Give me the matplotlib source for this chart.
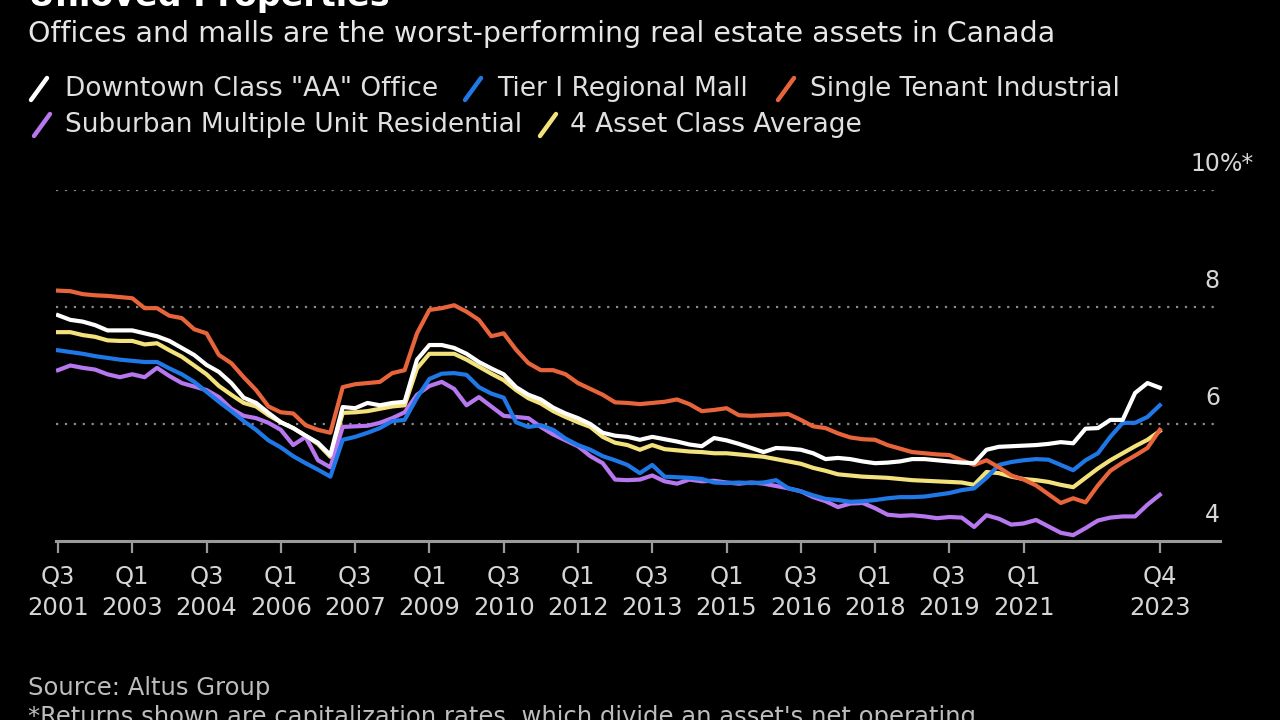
import matplotlib.pyplot as plt
from matplotlib.lines import Line2D
from matplotlib.transforms import blended_transform_factory

# ---- data: quarterly cap rates, Q3 2001 .. Q4 2023 ----
office = [7.86, 7.78, 7.75, 7.69, 7.60, 7.60, 7.60, 7.55, 7.50, 7.42,
          7.30, 7.18, 7.01, 6.89, 6.70, 6.45, 6.36, 6.19, 6.03, 5.93,
          5.80, 5.68, 5.47, 6.29, 6.27, 6.36, 6.32, 6.36, 6.38, 7.10,
          7.35, 7.35, 7.30, 7.20, 7.06, 6.95, 6.85, 6.63, 6.50, 6.42,
          6.28, 6.18, 6.10, 6.00, 5.85, 5.80, 5.78, 5.73, 5.78, 5.74,
          5.70, 5.65, 5.62, 5.76, 5.72, 5.66, 5.59, 5.52, 5.59, 5.58,
          5.56, 5.50, 5.40, 5.42, 5.40, 5.36, 5.33, 5.34, 5.36, 5.40,
          5.40, 5.38, 5.36, 5.34, 5.33, 5.56, 5.61, 5.62, 5.63, 5.64,
          5.66, 5.69, 5.67, 5.92, 5.93, 6.07, 6.07, 6.53, 6.70, 6.62]

mall = [7.26, 7.23, 7.20, 7.16, 7.13, 7.10, 7.08, 7.06, 7.06, 6.95,
        6.85, 6.72, 6.55, 6.38, 6.22, 6.05, 5.90, 5.72, 5.60, 5.45,
        5.33, 5.22, 5.10, 5.73, 5.78, 5.85, 5.93, 6.05, 6.07, 6.45,
        6.77, 6.86, 6.87, 6.84, 6.63, 6.52, 6.45, 6.03, 5.95, 5.98,
        5.90, 5.75, 5.64, 5.56, 5.45, 5.38, 5.30, 5.16, 5.30, 5.10,
        5.09, 5.08, 5.06, 5.00, 4.99, 5.00, 4.99, 5.00, 5.04, 4.90,
        4.85, 4.78, 4.72, 4.70, 4.67, 4.68, 4.70, 4.73, 4.75, 4.75,
        4.76, 4.79, 4.82, 4.87, 4.90, 5.08, 5.30, 5.35, 5.38, 5.40,
        5.39, 5.30, 5.21, 5.38, 5.50, 5.78, 6.02, 6.02, 6.12, 6.32]

industrial = [8.28, 8.27, 8.22, 8.20, 8.19, 8.17, 8.15, 7.98, 7.98, 7.85,
              7.81, 7.62, 7.55, 7.18, 7.04, 6.80, 6.58, 6.30, 6.20, 6.18,
              5.98, 5.90, 5.85, 6.63, 6.68, 6.70, 6.72, 6.87, 6.92, 7.55,
              7.95, 7.98, 8.03, 7.92, 7.78, 7.50, 7.55, 7.27, 7.04, 6.92,
              6.92, 6.85, 6.70, 6.60, 6.50, 6.37, 6.36, 6.34, 6.36, 6.38,
              6.42, 6.34, 6.22, 6.24, 6.27, 6.15, 6.14, 6.15, 6.16, 6.17,
              6.07, 5.96, 5.93, 5.84, 5.77, 5.74, 5.73, 5.64, 5.58, 5.52,
              5.50, 5.48, 5.47, 5.38, 5.30, 5.38, 5.26, 5.12, 5.05, 4.95,
              4.80, 4.65, 4.73, 4.66, 4.95, 5.20, 5.34, 5.46, 5.59, 5.90]

residential = [6.92, 7.00, 6.96, 6.93, 6.85, 6.80, 6.85, 6.80, 6.96, 6.82,
               6.70, 6.64, 6.58, 6.46, 6.26, 6.14, 6.10, 6.02, 5.90, 5.64,
               5.78, 5.38, 5.26, 5.95, 5.96, 5.97, 6.02, 6.10, 6.20, 6.50,
               6.65, 6.72, 6.60, 6.32, 6.46, 6.30, 6.14, 6.12, 6.10, 5.95,
               5.82, 5.72, 5.62, 5.45, 5.33, 5.05, 5.04, 5.05, 5.12, 5.02,
               4.98, 5.05, 5.02, 5.03, 5.00, 4.98, 5.00, 4.98, 4.94, 4.90,
               4.85, 4.75, 4.68, 4.58, 4.64, 4.65, 4.56, 4.45, 4.43, 4.44,
               4.42, 4.39, 4.41, 4.40, 4.24, 4.44, 4.38, 4.28, 4.30, 4.36,
               4.25, 4.14, 4.10, 4.22, 4.35, 4.40, 4.42, 4.42, 4.62, 4.79]

average = [7.57, 7.57, 7.52, 7.49, 7.43, 7.42, 7.42, 7.36, 7.38, 7.26,
           7.15, 7.00, 6.85, 6.65, 6.50, 6.36, 6.30, 6.15, 6.03, 5.93,
           5.80, 5.66, 5.44, 6.19, 6.20, 6.22, 6.26, 6.30, 6.32, 6.95,
           7.20, 7.20, 7.20, 7.10, 6.98, 6.86, 6.75, 6.58, 6.44, 6.35,
           6.22, 6.12, 6.03, 5.95, 5.78, 5.68, 5.64, 5.56, 5.64, 5.57,
           5.55, 5.53, 5.52, 5.50, 5.50, 5.48, 5.46, 5.44, 5.40, 5.36,
           5.32, 5.25, 5.20, 5.14, 5.12, 5.10, 5.09, 5.08, 5.06, 5.04,
           5.03, 5.02, 5.01, 5.00, 4.96, 5.18, 5.16, 5.10, 5.06, 5.04,
           5.01, 4.96, 4.92, 5.08, 5.24, 5.38, 5.50, 5.62, 5.73, 5.88]

# quarter labels Q3 2001 .. Q4 2023
quarters = []
y, q = 2001, 3
while (y, q) <= (2023, 4):
    quarters.append(f"Q{q}\n{y}")
    q += 1
    if q > 4:
        y, q = y + 1, 1
x = list(range(len(quarters)))

tick_idx = list(range(0, 79, 6)) + [len(quarters) - 1]
tick_labels = [quarters[i] for i in tick_idx]

y_ticks = [4, 6, 8, 10]

series = [
    ("Downtown Class \"AA\" Office", office, "#ffffff"),
    ("Tier I Regional Mall", mall, "#1f78e6"),
    ("Single Tenant Industrial", industrial, "#e8653c"),
    ("Suburban Multiple Unit Residential", residential, "#b777ee"),
    ("4 Asset Class Average", average, "#f3e27c"),
]

# ---- figure ----
W, H = 1280, 720
fig = plt.figure(figsize=(12.8, 7.2), dpi=100, facecolor="black")
ax = fig.add_axes([56 / W, 179 / H, 1164 / W, 351 / H], facecolor="black")

# draw order: average under the others like the reference
for name, vals, col in [series[4], series[3], series[1], series[2], series[0]]:
    ax.plot(x, vals, color=col, lw=3.0, solid_joinstyle="round", zorder=3)

ax.set_xlim(-0.16, 93.86)
ax.set_ylim(4, 10)

for v in y_ticks[1:]:
    ax.axhline(v, color="#8a8a8a", lw=1.6, ls=(0, (1, 3)), zorder=1)

for s in ["top", "right", "left"]:
    ax.spines[s].set_visible(False)
ax.spines["bottom"].set_color("#9a9a9a")
ax.spines["bottom"].set_linewidth(2.2)

ax.set_yticks([])
ax.set_xticks(tick_idx)
ax.set_xticklabels(tick_labels, color="#d6d6d6", fontsize=17.5, linespacing=1.35)
ax.tick_params(axis="x", length=8.5, width=1.6, color="#9a9a9a", pad=9)

# right side value labels, sitting above gridlines
tr = blended_transform_factory(ax.transAxes, ax.transData)
for v in y_ticks:
    ax.text(1.0, v + 0.32, str(v), transform=tr, ha="right", va="baseline",
            color="#d6d6d6", fontsize=17, clip_on=False)
ax.text(1.0, y_ticks[-1] + 0.32, "%*", transform=tr, ha="left", va="baseline",
        color="#d6d6d6", fontsize=17, clip_on=False)

# ---- title / subtitle (title cut off at top like the screenshot) ----
fig.text(28 / W, 1 - 6 / H, "Unloved Properties", color="white", fontsize=24,
         fontweight="bold", ha="left", va="baseline")
fig.text(28 / W, 1 - 34 / H, "Offices and malls are the worst-performing real estate assets in Canada",
         color="#e6e6e6", fontsize=20.5, ha="left", va="center")

# ---- legend drawn by hand ----
legend_pos = [(39, 89, 65), (473, 89, 497), (786, 89, 810), (42, 125, 65), (548, 125, 570)]
for (name, vals, col), (mx, my, tx) in zip(series, legend_pos):
    fig.add_artist(Line2D([(mx - 8) / W, (mx + 8) / W], [1 - (my + 11) / H, 1 - (my - 11) / H],
                          transform=fig.transFigure, color=col, lw=3.2, solid_capstyle="round"))
    fig.text(tx / W, 1 - my / H, name, color="#e0e0e0", fontsize=19, ha="left", va="center")

# ---- footer ----
fig.text(28 / W, 1 - 688 / H, "Source: Altus Group", color="#bdbdbd", fontsize=17.5,
         ha="left", va="center")
fig.text(28 / W, 1 - 717 / H,
         "*Returns shown are capitalization rates, which divide an asset's net operating",
         color="#bdbdbd", fontsize=17.5, ha="left", va="center")

fig.savefig("out.png", dpi=100, facecolor="black")
